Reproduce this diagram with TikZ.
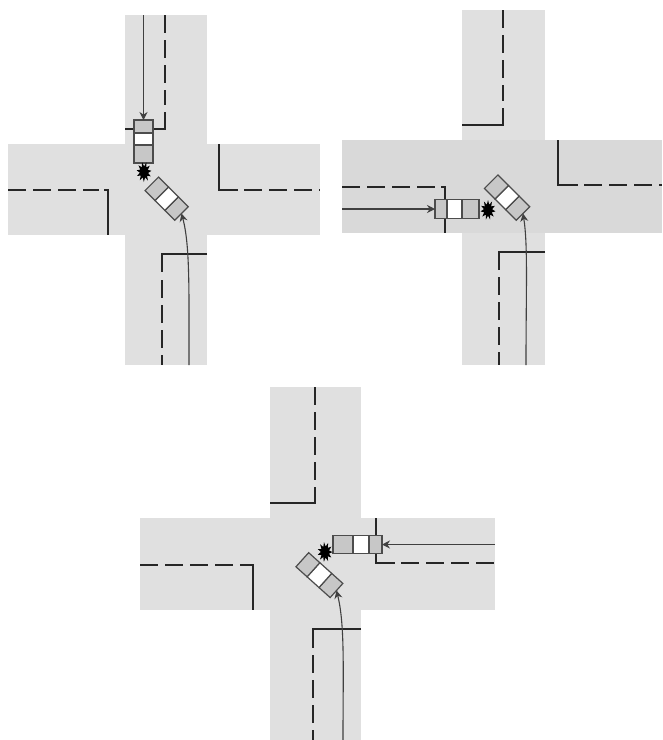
\documentclass[tikz,border=0pt]{standalone}
\usetikzlibrary{shapes.geometric,arrows.meta}
\definecolor{roadgray}{gray}{0.88}
\definecolor{roaddark}{gray}{0.85}
\definecolor{cargray}{gray}{0.78}
\tikzset{
  road/.style={fill=roadgray,draw=none},
  edgeline/.style={draw=black!85,line width=1.9pt},
  lane/.style={edgeline,dash pattern=on 18pt off 7pt},
  drive/.style={draw=black!75,line width=1.1pt,->},
  burst/.style={star,star points=11,star point ratio=1.8,fill=black,inner sep=0pt,minimum size=20pt,xscale=.75,transform shape},
  cell/.style={draw=black!70,line width=1.2pt},
  carbox/.pic={
    \coordinate (-rear) at (0,0);
    \filldraw[cell,fill=cargray] (0,-#1) rectangle (\carr,#1);
    \filldraw[cell,fill=white] (\carr,-#1) rectangle (\carm,#1);
    \filldraw[cell,fill=cargray] (\carm,-#1) rectangle (\carf,#1);
  }
}
\begin{document}
\begin{tikzpicture}[>={Stealth[length=8pt,width=8pt]},x=1pt,y=-1pt]
\useasboundingbox (0,0) rectangle (663,740);

% top left
\fill[road] (125,15) rectangle (207,365);
\fill[road] (8,144) rectangle (320,235);
\draw[lane] (165,15) -- (165,105);
\draw[edgeline] (165,112) -- (165,129) -- (125,129);
\draw[edgeline] (219,144) -- (219,190) -- (238,190);
\draw[lane] (244,190) -- (320,190);
\draw[lane] (8,190) -- (99,190);
\draw[edgeline] (104,190) -- (108,190) -- (108,235);
\draw[edgeline] (207,254) -- (162,254) -- (162,272);
\draw[lane] (162,280) -- (162,365);

\def\carr{13}\def\carm{25}\def\carf{43}
\pic (carA) at (143.5,120) [rotate=-90] {carbox=9.5};
\def\carr{14}\def\carm{28}\def\carf{42}
\pic (carB) at (181.5,213.5) [rotate=135] {carbox=9.5};
\node[burst,rotate=15] (crashA) at (144,172) {};
\coordinate (inA) at (143.5,15);
\coordinate (inB) at (189,365);
\draw[drive] (inA) -- (carA-rear);
\draw[drive] (inB) .. controls (189,290) and (190,245) .. (carB-rear);

% top right
\fill[road] (462,10) rectangle (545,365);
\fill[roaddark] (342,140) rectangle (662,233);
\draw[lane] (503,10) -- (503,101);
\draw[edgeline] (503,108) -- (503,125) -- (462,125);
\draw[edgeline] (558,140) -- (558,185) -- (578,185);
\draw[lane] (584,185) -- (662,185);
\draw[lane] (342,187) -- (435,187);
\draw[edgeline] (441,187) -- (445,187) -- (445,233);
\draw[edgeline] (545,252) -- (499,252) -- (499,270);
\draw[lane] (499,277) -- (499,365);

\def\carr{12}\def\carm{27}\def\carf{44}
\pic (carC) at (435,209) [rotate=0] {carbox=9.5};
\def\carr{15}\def\carm{30}\def\carf{45}
\pic (carD) at (523,213.5) [rotate=135] {carbox=9.5};
\node[burst] (crashB) at (488,210) {};
\coordinate (inC) at (342,209);
\coordinate (inD) at (526,365);
\draw[drive] (inC) -- (carC-rear);
\draw[drive] (inD) .. controls (526,290) and (528,245) .. (carD-rear);

% bottom
\fill[road] (270,387) rectangle (361,740);
\fill[road] (140,518) rectangle (495,610);
\draw[lane] (315,387) -- (315,480);
\draw[edgeline] (315,487) -- (315,503) -- (270,503);
\draw[edgeline] (376,518) -- (376,563) -- (395,563);
\draw[lane] (401,563) -- (495,563);
\draw[lane] (140,565) -- (233,565);
\draw[edgeline] (240,565) -- (253,565) -- (253,610);
\draw[edgeline] (361,629) -- (313,629) -- (313,648);
\draw[lane] (313,655) -- (313,740);

\def\carr{13}\def\carm{29}\def\carf{49}
\pic (carE) at (382,544.5) [rotate=180] {carbox=9};
\def\carr{15}\def\carm{31}\def\carf{46}
\pic (carF) at (336.5,590.5) [rotate=138] {carbox=9.5};
\node[burst,rotate=-25] (crashC) at (325,552) {};
\coordinate (inE) at (495,544.5);
\coordinate (inF) at (343,740);
\draw[drive] (inE) -- (carE-rear);
\draw[drive] (inF) .. controls (343,670) and (345,625) .. (carF-rear);
\end{tikzpicture}
\end{document}
